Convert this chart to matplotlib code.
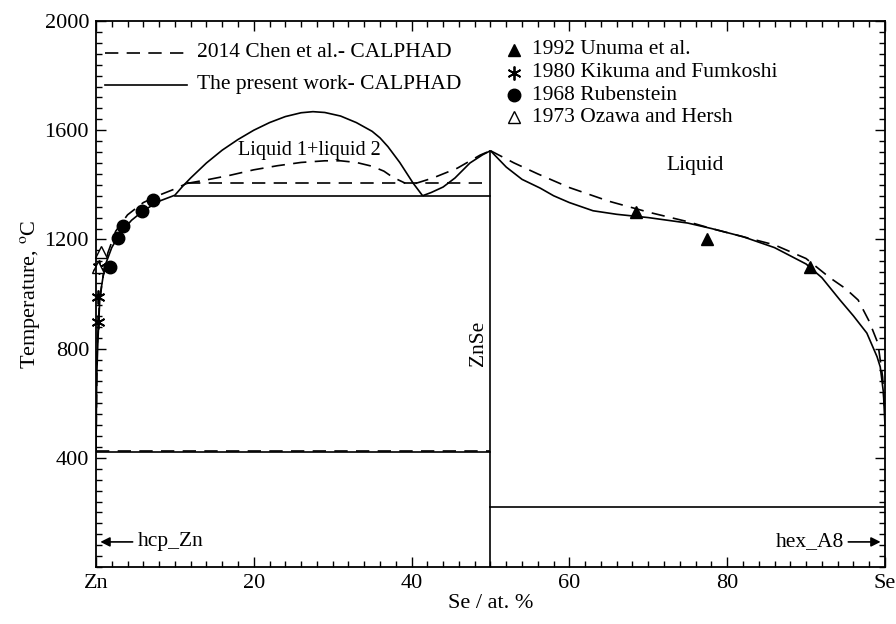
import matplotlib
matplotlib.use("Agg")
import matplotlib.pyplot as plt
from matplotlib.ticker import MultipleLocator

plt.rcParams['font.family'] = ['Liberation Serif', 'DejaVu Serif']
plt.rcParams['mathtext.fontset'] = 'stix'

# ---------------- data (x: at.% Se, T: degC) ----------------
# present work (solid)
pw_zn_liq_x = [0, 0.1, 0.25, 0.5, 1.1, 2, 3, 4.5, 6, 8, 10]
pw_zn_liq_t = [420, 700, 830, 990, 1100, 1170, 1220, 1270, 1305, 1340, 1362]
pw_dome_x = [10, 11, 12, 14, 16, 18, 20, 22, 24, 26, 27.5, 29, 31, 33, 35, 36, 37, 38.5, 40.2, 41.4]
pw_dome_t = [1362, 1395, 1425, 1480, 1527, 1566, 1600, 1628, 1650, 1664, 1668, 1665, 1652, 1628, 1596, 1572, 1540, 1482, 1406, 1360]
pw_znse_l_x = [41.4, 42.5, 44, 45.5, 47.4, 49, 50]
pw_znse_l_t = [1360, 1372, 1392, 1425, 1480, 1510, 1525]
pw_se_liq_x = [50, 52, 54, 56.3, 58, 60, 63, 66, 70, 75, 78, 82, 86, 90, 92, 94.3, 96, 97.7, 99, 99.4, 99.8, 100]
pw_se_liq_t = [1525, 1465, 1420, 1388, 1360, 1335, 1305, 1292, 1280, 1260, 1240, 1210, 1170, 1110, 1060, 978, 920, 857, 770, 733, 640, 520]
pw_monotectic = 1360
pw_zn_eut = 420
pw_se_eut = 221

# Chen 2014 (dashed)
ch_zn_liq_x = [0, 0.15, 0.4, 0.8, 1.5, 2.5, 4, 6, 8, 10, 11.5]
ch_zn_liq_t = [425, 800, 950, 1050, 1150, 1230, 1290, 1335, 1362, 1385, 1405]
ch_dome_x = [11.5, 14, 17, 20, 23, 26, 29, 31, 33, 35, 36.5, 37.6, 39.2]
ch_dome_t = [1405, 1418, 1435, 1455, 1470, 1482, 1488, 1488, 1482, 1468, 1450, 1428, 1406]
ch_znse_l_x = [40.5, 42.7, 45.8, 48.7, 50]
ch_znse_l_t = [1405, 1425, 1461, 1509, 1525]
ch_se_liq_x = [50, 53, 56, 60, 65, 70, 75, 78, 82, 86, 90, 93, 95, 96.6, 98, 99.1, 99.7, 100]
ch_se_liq_t = [1525, 1480, 1440, 1390, 1340, 1300, 1265, 1240, 1210, 1180, 1130, 1060, 1020, 978, 900, 820, 696, 550]
ch_monotectic = 1405
ch_zn_eut = 425

# experimental points
unuma_x = [68.5, 77.5, 90.5]
unuma_t = [1300, 1200, 1100]
kikuma_x = [0.3, 0.3, 0.35]
kikuma_t = [897, 990, 1100]
rub_x = [1.8, 2.8, 3.4, 5.8, 7.2]
rub_t = [1100, 1205, 1250, 1305, 1345]
ozawa_x = [0.2, 0.6]
ozawa_t = [1100, 1155]

x_ticks = [0, 20, 40, 60, 80, 100]
x_ticklabels = ['Zn', '20', '40', '60', '80', 'Se']
y_ticks = [400, 800, 1200, 1600, 2000]

# ---------------- figure ----------------
fig = plt.figure(figsize=(8.96, 6.24), dpi=100)
ax = fig.add_axes([0.1071, 0.0913, 0.8806, 0.875])

lw = 1.2
dash = (0, (8, 5))
k = 'black'

# solid curves
for xs, ts in [(pw_zn_liq_x, pw_zn_liq_t), (pw_dome_x, pw_dome_t),
               (pw_znse_l_x, pw_znse_l_t), (pw_se_liq_x, pw_se_liq_t)]:
    ax.plot(xs, ts, color=k, lw=lw, solid_capstyle='butt')
ax.plot([10, 50], [pw_monotectic, pw_monotectic], color=k, lw=lw)
ax.plot([0, 50], [pw_zn_eut, pw_zn_eut], color=k, lw=lw)
ax.plot([50, 100], [pw_se_eut, pw_se_eut], color=k, lw=lw)
ax.plot([50, 50], [0, 1525], color=k, lw=lw)

# dashed curves
for xs, ts in [(ch_zn_liq_x, ch_zn_liq_t), (ch_dome_x, ch_dome_t),
               (ch_znse_l_x, ch_znse_l_t), (ch_se_liq_x, ch_se_liq_t)]:
    ax.plot(xs, ts, color=k, lw=lw, linestyle=dash)
ax.plot([11.5, 50], [ch_monotectic, ch_monotectic], color=k, lw=lw, linestyle=dash)
ax.plot([0, 50], [ch_zn_eut, ch_zn_eut], color=k, lw=lw, linestyle=dash)

# experimental markers
star = (6, 2, 0)
ax.plot(unuma_x, unuma_t, linestyle='none', marker='^', ms=9, color=k, clip_on=False)
ax.plot(kikuma_x, kikuma_t, linestyle='none', marker=star, ms=10, color=k, mew=1.3, clip_on=False)
ax.plot(rub_x, rub_t, linestyle='none', marker='o', ms=9, color=k, clip_on=False)
ax.plot(ozawa_x, ozawa_t, linestyle='none', marker='^', ms=9, mfc='white', mec=k, mew=1.0, clip_on=False)

# legend (manual)
fs = 15.5
ax.plot([1.1, 11.5], [1883, 1883], color=k, lw=lw, linestyle=dash)
ax.text(12.8, 1883, '2014 Chen et al.- CALPHAD', fontsize=fs, va='center', ha='left')
ax.plot([1.1, 11.5], [1766, 1766], color=k, lw=lw)
ax.text(12.8, 1766, 'The present work- CALPHAD', fontsize=fs, va='center', ha='left')

leg_rows = [1894, 1810, 1729, 1648]
ax.plot([53], [leg_rows[0]], marker='^', ms=9, color=k, linestyle='none')
ax.plot([53], [leg_rows[1]], marker=star, ms=10, color=k, mew=1.3, linestyle='none')
ax.plot([53], [leg_rows[2]], marker='o', ms=9, color=k, linestyle='none')
ax.plot([53], [leg_rows[3]], marker='^', ms=9, mfc='white', mec=k, mew=1.0, linestyle='none')
for t, s in zip(leg_rows, ['1992 Unuma et al.', '1980 Kikuma and Fumkoshi',
                           '1968 Rubenstein', '1973 Ozawa and Hersh']):
    ax.text(55.3, t, s, fontsize=fs, va='center', ha='left')

# region labels
ax.text(27, 1527, 'Liquid 1+liquid 2', fontsize=14.5, ha='center', va='center')
ax.text(76, 1470, 'Liquid', fontsize=fs, ha='center', va='center')
ax.text(48.5, 820, 'ZnSe', fontsize=fs, rotation=90, ha='center', va='center')

# arrows
ax.annotate('', xy=(0.2, 92), xytext=(5.0, 92),
            arrowprops=dict(arrowstyle='-|>', color=k, lw=1.2, mutation_scale=14))
ax.text(5.3, 92, 'hcp_Zn', fontsize=fs, ha='left', va='center')
ax.annotate('', xy=(99.8, 92), xytext=(95.0, 92),
            arrowprops=dict(arrowstyle='-|>', color=k, lw=1.2, mutation_scale=14))
ax.text(94.8, 92, 'hex_A8', fontsize=fs, ha='right', va='center')

# axes
ax.set_xlim(0, 100)
ax.set_ylim(0, 2000)
ax.set_xticks(x_ticks)
ax.set_xticklabels(x_ticklabels)
ax.set_yticks(y_ticks)
ax.xaxis.set_minor_locator(MultipleLocator(2))
ax.yaxis.set_minor_locator(MultipleLocator(40))
ax.tick_params(which='both', direction='in', top=True, right=True, labelsize=16, width=1.0)
ax.tick_params(which='major', length=7, pad=5)
ax.tick_params(which='minor', length=4)
for s in ax.spines.values():
    s.set_linewidth(1.3)
ax.set_xlabel('Se / at. %', fontsize=16, labelpad=1)
ax.set_ylabel('Temperature, $^{\\mathrm{o}}$C', fontsize=16, labelpad=2)

fig.savefig('out.png', dpi=100)
